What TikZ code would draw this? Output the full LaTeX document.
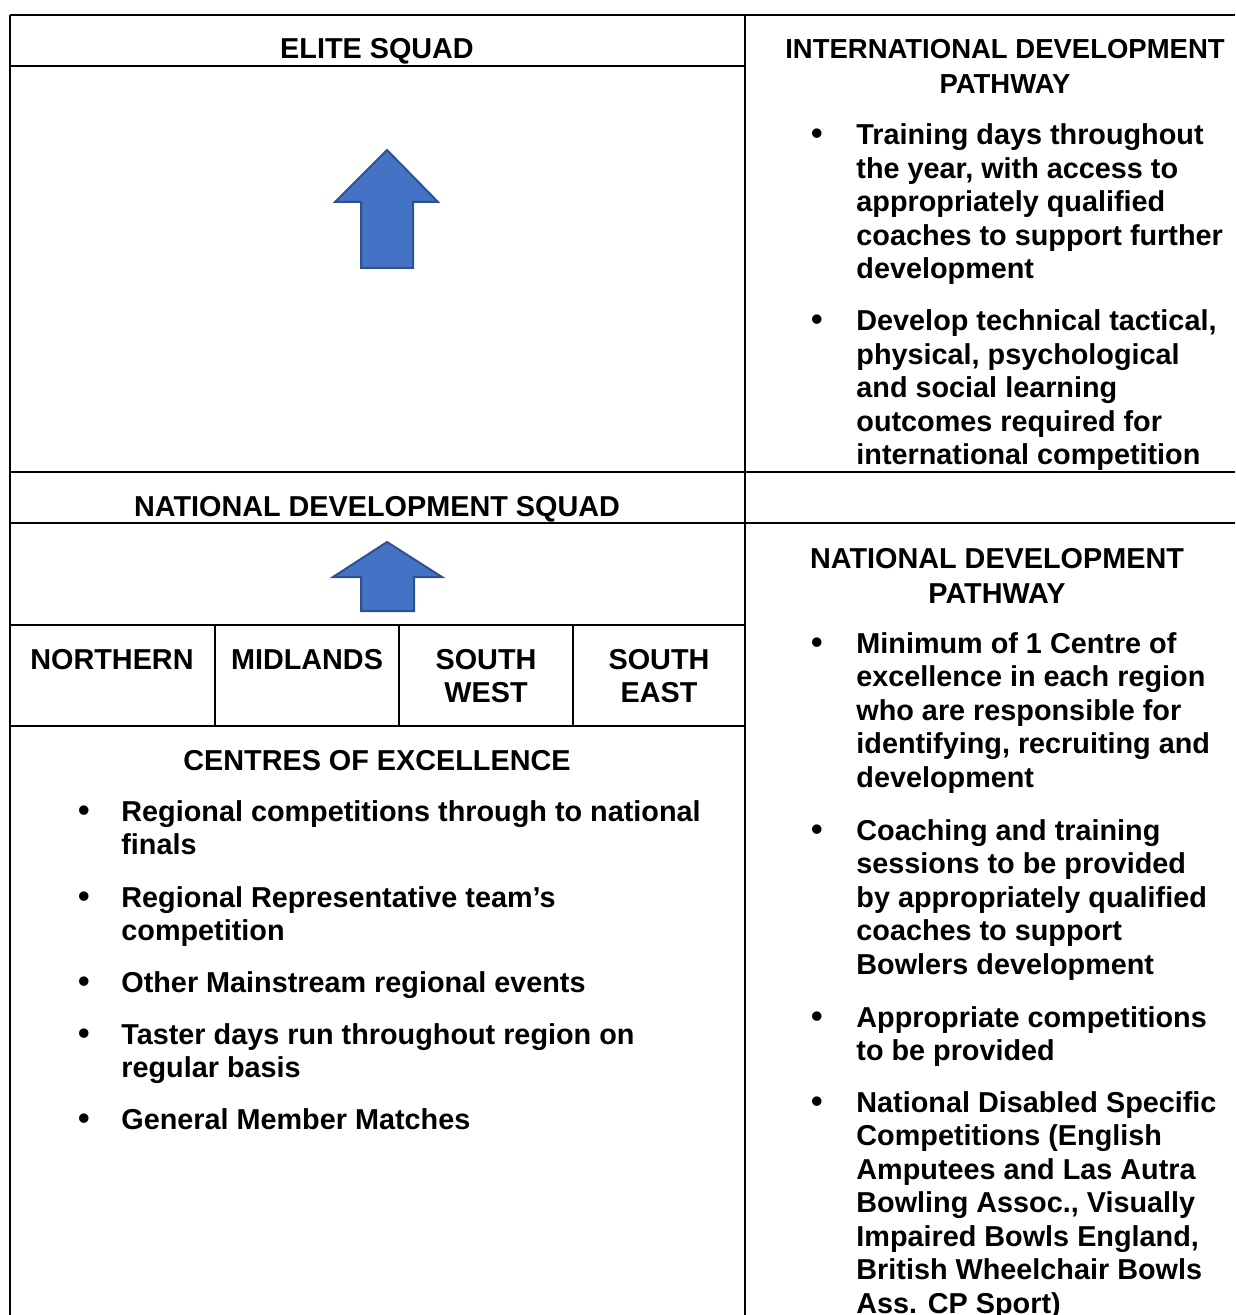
\documentclass[tikz,border=0pt]{standalone}
\usepackage{fontspec}
\setmainfont{Liberation Sans}
\usepackage{xcolor}
\usepackage{tikz}
\usetikzlibrary{positioning}
\definecolor{arrowblue}{HTML}{4472C4}
\definecolor{arrowedge}{HTML}{2F528F}
\newcommand{\cellfont}{\fontsize{14.4}{16.75}\selectfont\bfseries}
\newcommand{\headfont}{\fontsize{14.4}{17.75}\selectfont\bfseries}
% first line of the block sits on the node's base
\newcommand{\leftlines}[1]{\begin{tabular}[t]{@{}l@{}}#1\end{tabular}}
\newcommand{\midlines}[1]{\begin{tabular}[t]{@{}c@{}}#1\end{tabular}}
\begin{document}
\begin{tikzpicture}[x=0.5pt,y=-0.5pt,
  rule/.style={line width=1pt},
  thinrule/.style={line width=0.7pt},
  head/.style={font=\headfont, inner sep=0pt, anchor=base},
  item/.style={font=\cellfont, inner sep=0pt, anchor=base west},
  bul/.style={font=\fontsize{16.5}{16.75}\selectfont\bfseries, inner sep=0pt, anchor=base},
  uparrow/.style={fill=arrowblue, draw=arrowedge, line width=1pt}]
\clip (0,0) rectangle (1235,1315);
% table rules
  \draw[rule] (10,15) -- (1235,15);
  \draw[thinrule] (10,15) -- (10,1315);
  \draw[thinrule] (745,15) -- (745,1315);
  \draw[rule] (10,66) -- (745,66);
  \draw[rule] (10,472) -- (1235,472);
  \draw[rule] (10,523) -- (1235,523);
  \draw[rule] (10,625) -- (745,625);
  \draw[rule] (10,726) -- (745,726);
  \foreach \x in {215,399,573}
    \draw[thinrule] (\x,625) -- (\x,726);
% arrows
  \filldraw[uparrow] (387,150) -- (438,202) -- (413,202) -- (413,268)
    -- (361,268) -- (361,202) -- (335,202) -- cycle;
  \filldraw[uparrow] (387,542) -- (442,577) -- (414,577) -- (414,611)
    -- (361,611) -- (361,577) -- (333,577) -- cycle;
% left column
  \node[head] (elite) at (377,59) {ELITE SQUAD};
  \node[head] (nds) at (377,516) {NATIONAL DEVELOPMENT SQUAD};
  \node[head] (north) at (112,669) {NORTHERN};
  \node[head] (mid) at (307,669) {MIDLANDS};
  \node[head, font=\cellfont] (sw) at (486,669) {\midlines{SOUTH\\WEST}};
  \node[head, font=\cellfont] (se) at (659,669) {\midlines{SOUTH\\EAST}};
  \node[head] (coe) at (377,770) {CENTRES OF EXCELLENCE};
  \node[bul] (lb1) at (84,821) {\textbullet};
  \node[item] (li1) at (121,821) {\leftlines{Regional competitions through to national\\finals}};
  \node[bul] (lb2) at (84,907) {\textbullet};
  \node[item] (li2) at (121,907) {\leftlines{Regional Representative team’s\\competition}};
  \node[bul] (lb3) at (84,992) {\textbullet};
  \node[item] (li3) at (121,992) {Other Mainstream regional events};
  \node[bul] (lb4) at (84,1044) {\textbullet};
  \node[item] (li4) at (121,1044) {\leftlines{Taster days run throughout region on\\regular basis}};
  \node[bul] (lb5) at (84,1129) {\textbullet};
  \node[item] (li5) at (121,1129) {General Member Matches};
% right column
  \node[head, font=\fontsize{13.75}{17.5}\selectfont\bfseries] (idp) at (1005,59)
    {\midlines{INTERNATIONAL DEVELOPMENT\\PATHWAY}};
  \node[bul] (rb1) at (817,145) {\textbullet};
  \node[item] (ri1) at (856,145) {\leftlines{Training days throughout\\the year, with access to\\appropriately qualified\\coaches to support further\\development}};
  \node[bul] (rb2) at (817,331) {\textbullet};
  \node[item] (ri2) at (856,331) {\leftlines{Develop technical tactical,\\physical, psychological\\and social learning\\outcomes required for\\international competition}};
  \node[head] (ndp) at (997,568) {\midlines{NATIONAL DEVELOPMENT\\PATHWAY}};
  \node[bul] (rb3) at (817,653) {\textbullet};
  \node[item] (ri3) at (856,653) {\leftlines{Minimum of 1 Centre of\\excellence in each region\\who are responsible for\\identifying, recruiting and\\development}};
  \node[bul] (rb4) at (817,840) {\textbullet};
  \node[item] (ri4) at (856,840) {\leftlines{Coaching and training\\sessions to be provided\\by appropriately qualified\\coaches to support\\Bowlers development}};
  \node[bul] (rb5) at (817,1027) {\textbullet};
  \node[item] (ri5) at (856,1027) {\leftlines{Appropriate competitions\\to be provided}};
  \node[bul] (rb6) at (817,1112) {\textbullet};
  \node[item] (ri6) at (856,1112) {\leftlines{National Disabled Specific\\Competitions (English\\Amputees and Las Autra\\Bowling Assoc., Visually\\Impaired Bowls England,\\British Wheelchair Bowls\\Ass. CP Sport)}};
\end{tikzpicture}
\end{document}
